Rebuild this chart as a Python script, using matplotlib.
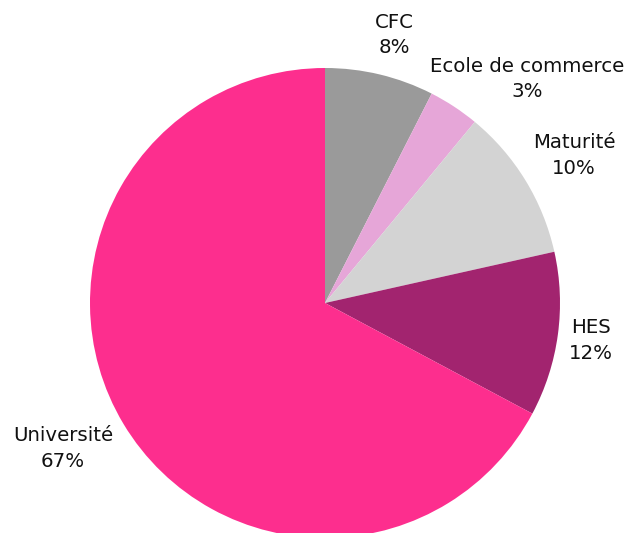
import numpy as np
import matplotlib
matplotlib.use("Agg")
import matplotlib.pyplot as plt

categories = ["CFC", "Ecole de commerce", "Maturité", "HES", "Université"]
shares = [7.5, 3.5, 10.5, 11.3, 67.2]
pct_labels = ["8%", "3%", "10%", "12%", "67%"]

colors = ["#9a9a9a", "#e6a6d8", "#d3d3d3", "#a2246f", "#fd2e8e"]
# label placement (polar, relative to pie centre, in radii)
label_angle = [75.4, 47.9, 30.6, -8.1, 209.0]
label_dist = [1.178, 1.285, 1.231, 1.143, 1.274]

plt.rcParams["font.family"] = ["DejaVu Sans"]

fig = plt.figure(figsize=(6.29, 5.33), dpi=100)
ax = fig.add_axes([0, 0, 1, 1])
wedges, _ = ax.pie(shares, colors=colors, startangle=90, counterclock=False,
                   radius=1.0, wedgeprops=dict(linewidth=0))

for name, pct, a, d in zip(categories, pct_labels, label_angle, label_dist):
    t = np.deg2rad(a)
    ax.text(d * np.cos(t), d * np.sin(t), f"{name}\n{pct}",
            ha="center", va="center", fontsize=14.2, color="#111111",
            linespacing=1.45)

ax.set_xlim(-325 / 235, (629 - 325) / 235)
ax.set_ylim(-(533 - 303) / 235, 303 / 235)
ax.set_aspect("equal")
ax.axis("off")

fig.savefig("out.png", dpi=100, facecolor="white")
